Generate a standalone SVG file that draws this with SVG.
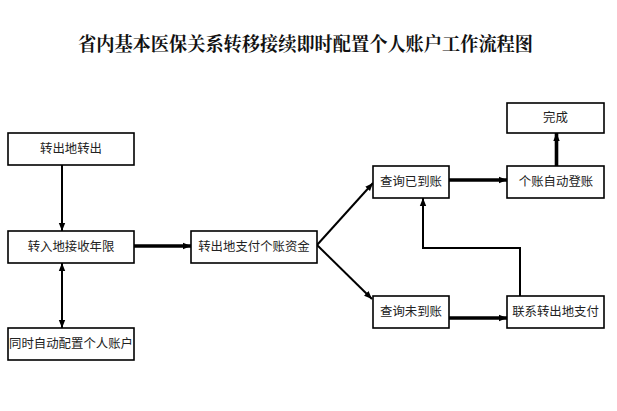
<svg xmlns="http://www.w3.org/2000/svg" width="617" height="411" viewBox="0 0 617 411">
<style>
.box{fill:#fff;stroke:#000;stroke-width:1.6}
.t{font-family:"Liberation Sans","Noto Sans CJK SC",sans-serif;font-size:12.4px;fill:#222;text-anchor:middle;dominant-baseline:central}
.title{font-family:"Noto Serif CJK SC","Noto Sans CJK SC",serif;font-size:19.5px;font-weight:bold;fill:#111;text-anchor:middle}
.c{fill:none;stroke:#000;stroke-width:2}
.ck{fill:none;stroke:#000;stroke-width:3.6}
</style>
<defs>
<marker id="ah" markerUnits="userSpaceOnUse" viewBox="0 0 8 8" refX="8" refY="4" markerWidth="8" markerHeight="8" orient="auto-start-reverse">
<path d="M0,0.8 L8,4 L0,7.2 Z" fill="#000"/>
</marker>
</defs>
<rect width="617" height="411" fill="#fff"/>
<text class="title" x="305.5" y="51" textLength="455" lengthAdjust="spacingAndGlyphs">省内基本医保关系转移接续即时配置个人账户工作流程图</text>
<g id="connectors">
<path class="c" d="M62,165 V231" marker-end="url(#ah)"/>
<path class="c" d="M62,263 V328" marker-start="url(#ah)" marker-end="url(#ah)"/>
<path class="ck" d="M134,246 H191" marker-end="url(#ah)"/>
<path class="c" d="M317,245 L373,183" marker-end="url(#ah)"/>
<path class="c" d="M317,245 L372,299" marker-end="url(#ah)"/>
<path class="ck" d="M449,180 H507" marker-end="url(#ah)"/>
<path class="ck" d="M556.5,166 V133" marker-end="url(#ah)"/>
<path class="ck" d="M449,318 H507" marker-end="url(#ah)"/>
<path class="c" d="M520,296 V248 H423 V198" marker-end="url(#ah)"/>
</g>
<g id="n1"><rect class="box" x="8" y="133" width="126" height="32"/><text class="t" x="71" y="149">转出地转出</text></g>
<g id="n2"><rect class="box" x="8" y="231" width="126" height="32"/><text class="t" x="71" y="247">转入地接收年限</text></g>
<g id="n3"><rect class="box" x="8" y="328" width="126" height="32"/><text class="t" x="71" y="344">同时自动配置个人账户</text></g>
<g id="n4"><rect class="box" x="191" y="231" width="126" height="32"/><text class="t" x="254" y="247">转出地支付个账资金</text></g>
<g id="n5"><rect class="box" x="373" y="166" width="76" height="32"/><text class="t" x="411" y="182">查询已到账</text></g>
<g id="n6"><rect class="box" x="373" y="296" width="76" height="32"/><text class="t" x="411" y="312">查询未到账</text></g>
<g id="n7"><rect class="box" x="507" y="166" width="97" height="32"/><text class="t" x="556" y="182">个账自动登账</text></g>
<g id="n8"><rect class="box" x="507" y="103" width="97" height="30"/><text class="t" x="555.5" y="118">完成</text></g>
<g id="n9"><rect class="box" x="507" y="296" width="97" height="32"/><text class="t" x="555.5" y="312">联系转出地支付</text></g>
</svg>
